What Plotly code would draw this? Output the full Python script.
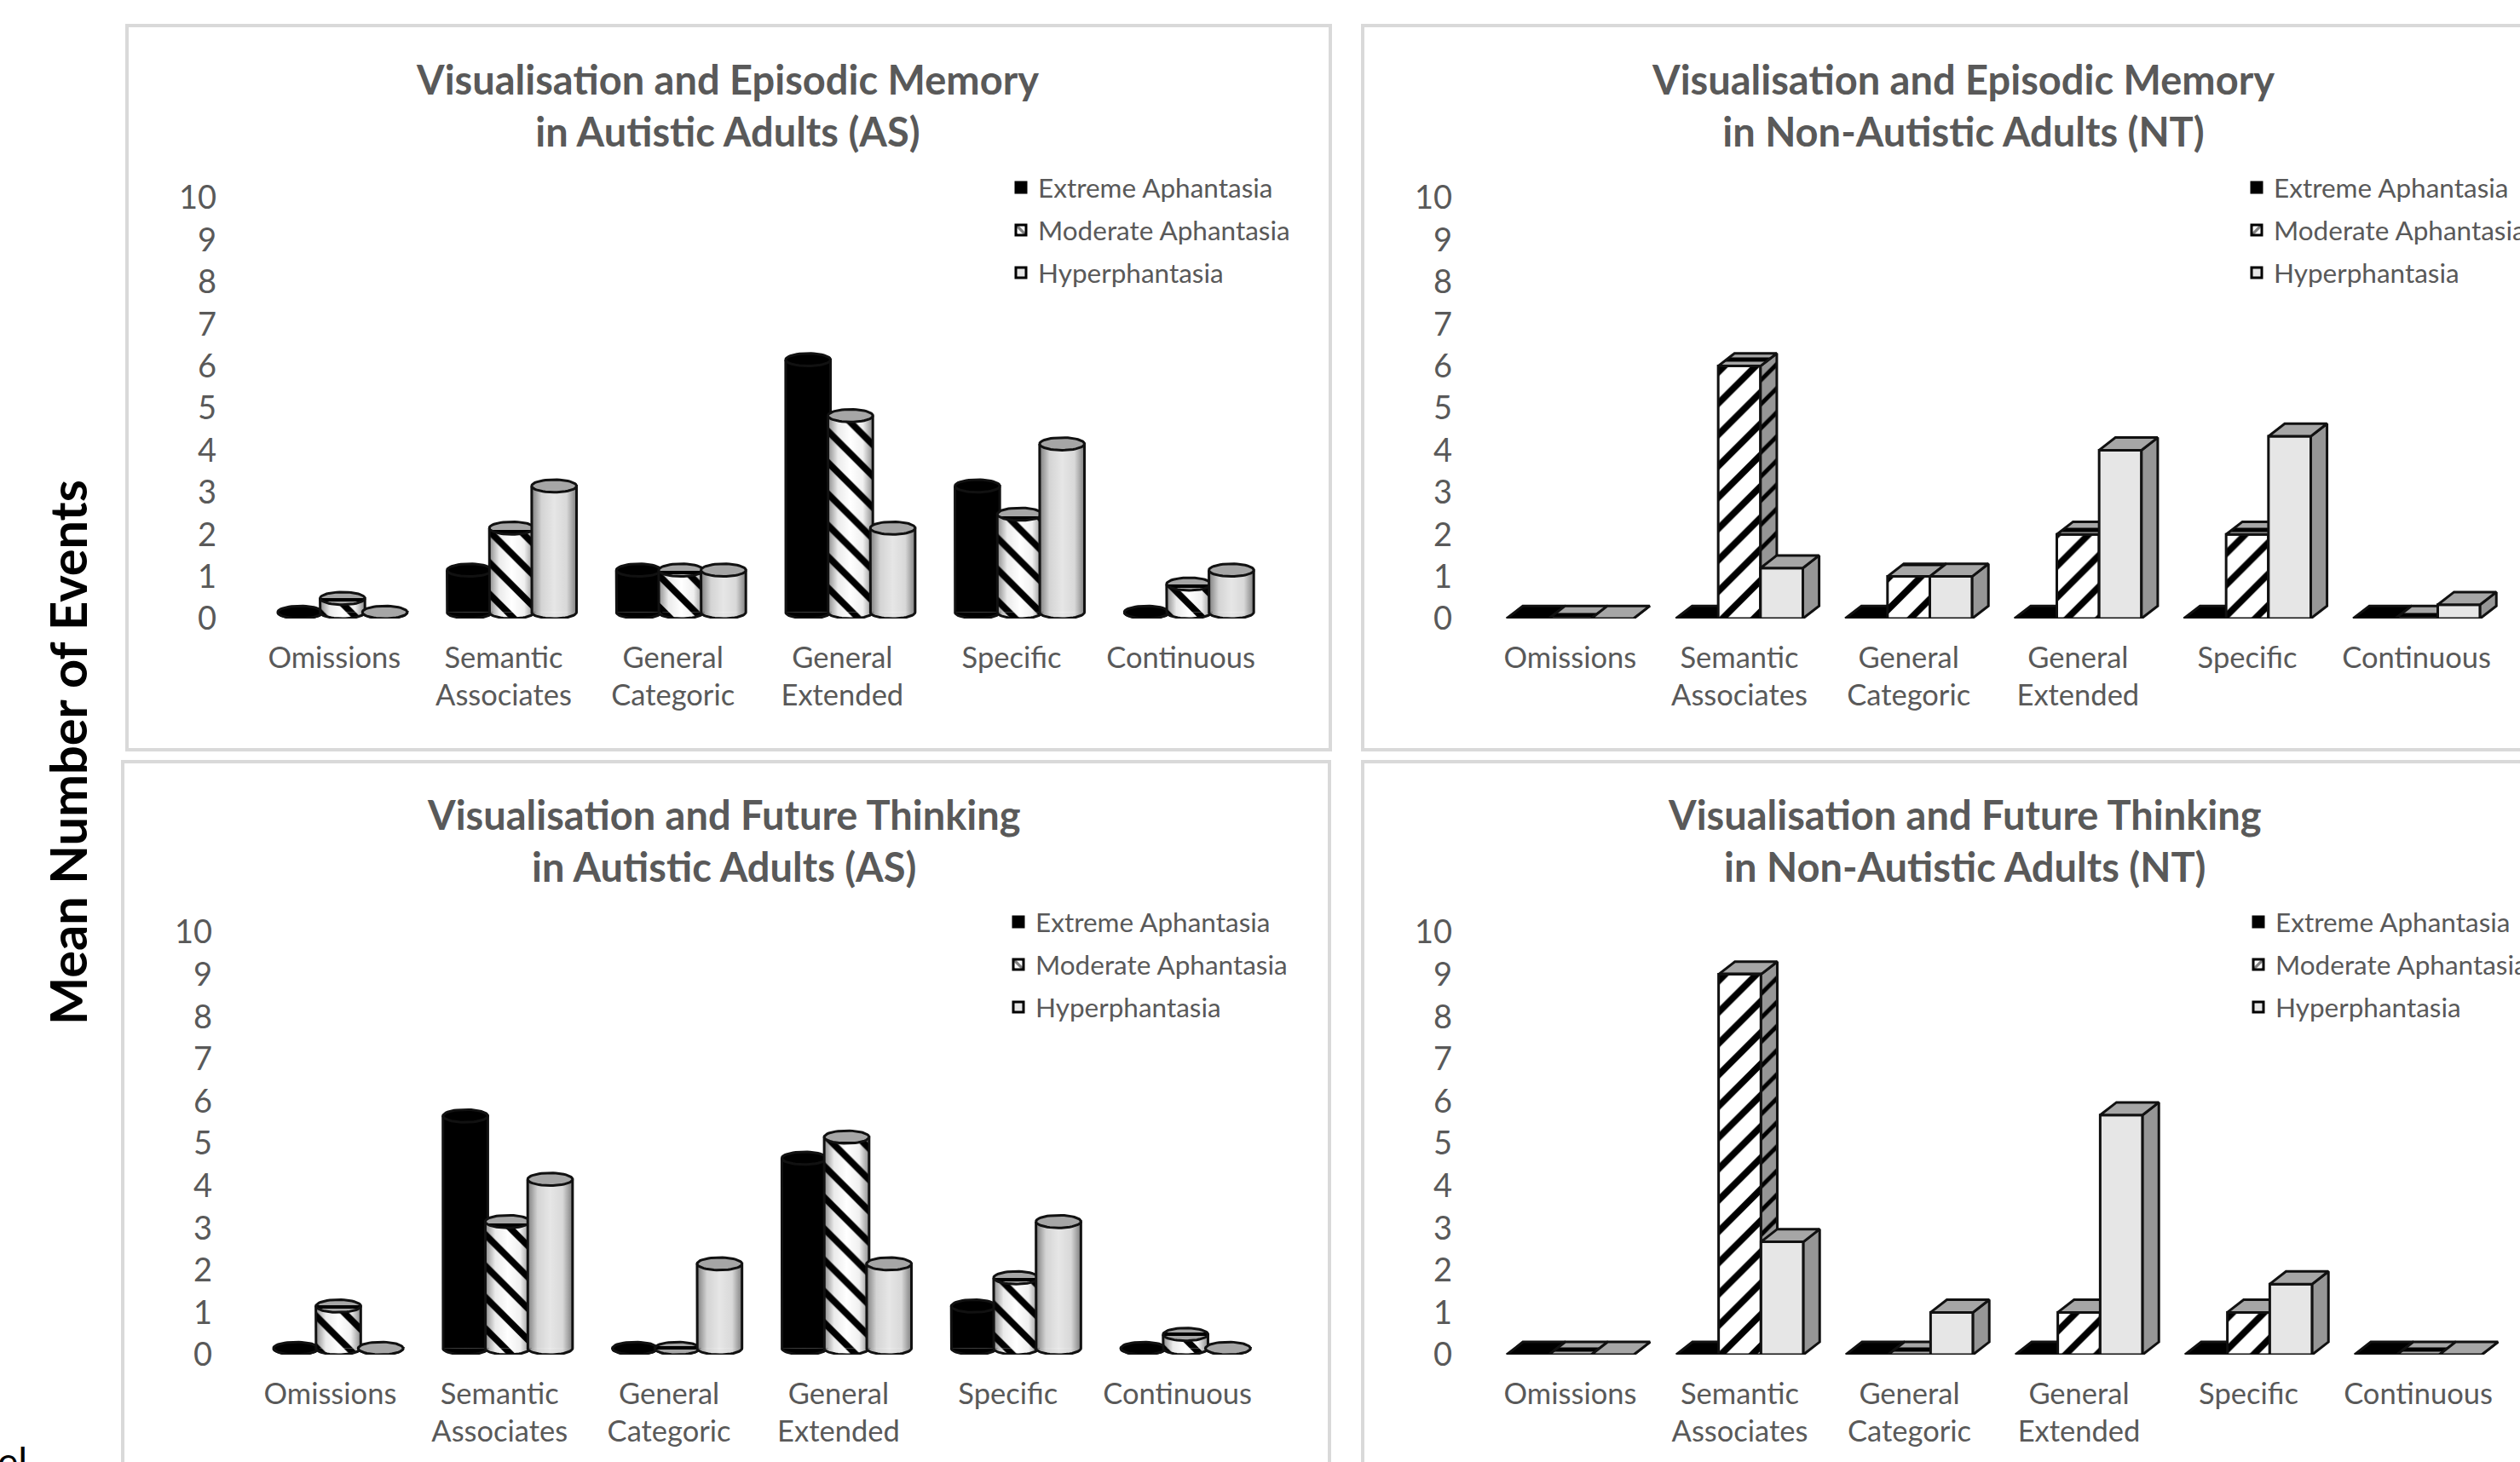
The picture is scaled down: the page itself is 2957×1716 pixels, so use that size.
import numpy as np
import plotly.graph_objects as go

W, H = 2957, 1716
categories = ["Omissions", "Semantic<br>Associates", "General<br>Categoric",
              "General<br>Extended", "Specific", "Continuous"]
series_names = ["Extreme Aphantasia", "Moderate Aphantasia", "Hyperphantasia"]
y_ticks = list(range(0, 11))

em_as_extreme = [0, 1, 1, 6, 3, 0]
em_as_moderate = [0.33, 2, 1, 4.67, 2.33, 0.67]
em_as_hyper = [0, 3, 1, 2, 4, 1]

em_nt_extreme = [0, 0, 0, 0, 0, 0]
em_nt_moderate = [0, 6, 1, 2, 2, 0]
em_nt_hyper = [0, 1.2, 1, 4, 4.33, 0.33]

ft_as_extreme = [0, 5.5, 0, 4.5, 1, 0]
ft_as_moderate = [1, 3, 0, 5, 1.67, 0.33]
ft_as_hyper = [0, 4, 2, 2, 3, 0]

ft_nt_extreme = [0, 0, 0, 0, 0, 0]
ft_nt_moderate = [0, 9, 0, 1, 1, 0]
ft_nt_hyper = [0, 2.67, 1, 5.67, 1.67, 0]

panels = [
    dict(title="Visualisation and Episodic Memory<br>in Autistic Adults (AS)", values=[em_as_extreme, em_as_moderate, em_as_hyper],
         kind="cyl", x0=293, x1=1485, y0=726, y10=232, tx=853, ty=124,
         frame=(149, 30, 1561, 880), lx=1178, ly=193),
    dict(title="Visualisation and Episodic Memory<br>in Non-Autistic Adults (NT)", values=[em_nt_extreme, em_nt_moderate, em_nt_hyper],
         kind="box", x0=1743, x1=2935, y0=726, y10=232, tx=2303, ty=124,
         frame=(1599, 30, 3100, 880), lx=2628, ly=193),
    dict(title="Visualisation and Future Thinking<br>in Autistic Adults (AS)", values=[ft_as_extreme, ft_as_moderate, ft_as_hyper],
         kind="cyl", x0=288, x1=1481, y0=1590, y10=1094, tx=849, ty=986,
         frame=(144, 894, 1560, 1800), lx=1175, ly=1055),
    dict(title="Visualisation and Future Thinking<br>in Non-Autistic Adults (NT)", values=[ft_nt_extreme, ft_nt_moderate, ft_nt_hyper],
         kind="box", x0=1743, x1=2937, y0=1590, y10=1094, tx=2305, ty=986,
         frame=(1599, 894, 3100, 1800), lx=2630, ly=1055),
]

GREY = "#595959"
FONT = "Lato"
OUT = "#111111"
DX, DY = 0.096, 0.30      # oblique depth of the 3-D columns, in axis units
BOX_W, CYL_W = 0.25, 0.265
OFFS = [-0.25, 0.0, 0.25]
FRONT = ["#000000", "#ffffff", "#e6e6e6"]
TOP = ["#000000", "#a6a6a6", "#a6a6a6"]
SIDE = ["#000000", "#969696", "#969696"]

fig = go.Figure()
layout = dict(width=W, height=H, autosize=False, margin=dict(l=0, r=0, t=0, b=0, autoexpand=False),
              paper_bgcolor="white", plot_bgcolor="rgba(0,0,0,0)", barmode="overlay",
              font=dict(family=FONT, color=GREY), showlegend=True)
shapes, annos = [], []


def stripe(direction, bg, size=26, fg="#000000", sol=0.3):
    return dict(shape=direction, bgcolor=bg, fgcolor=fg, size=size, solidity=sol, fillmode="replace")


for p, P in enumerate(panels):
    f = P["frame"]
    shapes.append(dict(type="rect", xref="paper", yref="paper", x0=f[0] / W, x1=f[2] / W,
                       y0=1 - f[3] / H, y1=1 - f[1] / H, line=dict(color="#d9d9d9", width=4),
                       fillcolor="white", layer="below"))
    annos.append(dict(text=P["title"], xref="paper", yref="paper", x=P["tx"] / W, y=1 - P["ty"] / H,
                      xanchor="center", yanchor="middle", showarrow=False,
                      font=dict(family=FONT, size=47, color=GREY, weight=700)))
    lname = "legend" if p == 0 else f"legend{p + 1}"
    layout[lname] = dict(x=P["lx"] / W, y=1 - P["ly"] / H, xanchor="left", yanchor="top",
                         bgcolor="rgba(0,0,0,0)", font=dict(family=FONT, size=31.5, color=GREY),
                         tracegroupgap=6, itemclick=False, itemdoubleclick=False, itemwidth=30,
                         traceorder="grouped")
    direction = "\\" if P["kind"] == "cyl" else "/"
    for s in range(3):
        n = p * 3 + s + 1
        xn, yn = f"x{n}", f"y{n}"
        base = p * 3 + 1
        xa = dict(domain=[P["x0"] / W, P["x1"] / W], range=[-0.5, 5.5], showgrid=False, zeroline=False,
                  showline=False, anchor=yn, fixedrange=True)
        ya = dict(domain=[1 - (P["y0"]) / H, 1 - (P["y10"]) / H], range=[0, 10], showgrid=False, zeroline=False,
                  showline=False, anchor=xn, fixedrange=True)
        if s == 0:
            xa.update(tickmode="array", tickvals=list(range(6)), ticktext=categories, ticks="",
                      tickfont=dict(family=FONT, size=34.5, color=GREY), ticklabelstandoff=22)
            ya.update(tickmode="array", tickvals=y_ticks, ticktext=[str(t) for t in y_ticks], ticks="",
                      tickfont=dict(family=FONT, size=38, color=GREY), ticklabelstandoff=38)
        else:
            xa.update(overlaying=f"x{base}", visible=False)
            ya.update(overlaying=f"y{base}", visible=False)
        layout["xaxis" if n == 1 else f"xaxis{n}"] = xa
        layout["yaxis" if n == 1 else f"yaxis{n}"] = ya

        vals = P["values"][s]
        hatched = s == 1
        axes = dict(xaxis=xn, yaxis=yn)

        if P["kind"] == "box":
            pat = stripe(direction, "#ffffff") if hatched else None
            mk = dict(color=FRONT[s], line=dict(color=OUT, width=3))
            if pat:
                mk["pattern"] = pat
            fig.add_trace(go.Bar(x=[i + OFFS[s] for i in range(6)], y=vals, width=BOX_W, marker=mk,
                                 showlegend=False, cliponaxis=False, name=series_names[s], **axes))
            xs_top, ys_top, xs_side, ys_side = [], [], [], []
            for i, v in enumerate(vals):
                l, r = i + OFFS[s] - BOX_W / 2, i + OFFS[s] + BOX_W / 2
                xs_top += [l, l + DX, r + DX, r, l, None]
                ys_top += [v, v + DY, v + DY, v, v, None]
                xs_side += [r, r + DX, r + DX, r, r, None]
                ys_side += [v, v + DY, DY, 0, v, None]
            for xs, ys, col in ((xs_side, ys_side, SIDE[s]), (xs_top, ys_top, TOP[s])):
                kw = dict(fillpattern=stripe("/" if col == SIDE[s] else "-", col, size=20, sol=0.25)) if hatched else {}
                fig.add_trace(go.Scatter(x=xs, y=ys, mode="lines", fill="toself", fillcolor=col,
                                         line=dict(color=OUT, width=3), showlegend=False, cliponaxis=False,
                                         hoverinfo="skip", **kw, **axes))
        else:
            rx, ry = CYL_W / 2, DY / 2
            cx = [i + OFFS[s] + DX / 2 for i in range(6)]
            pat = stripe(direction, "#ffffff") if hatched else None
            mk = dict(color=FRONT[s], line=dict(width=0))
            if pat:
                mk["pattern"] = pat
            fig.add_trace(go.Bar(x=cx, y=vals, base=[ry] * 6, width=CYL_W, marker=mk,
                                 showlegend=False, cliponaxis=False, name=series_names[s], **axes))
            t = np.linspace(0, np.pi, 25)
            for c, v in zip(cx, vals):
                bx = list(c - rx * np.cos(t))
                by = list(ry - ry * np.sin(t))
                # rounded underside, same fill as the column
                kw = dict(fillpattern=pat) if hatched else {}
                fig.add_trace(go.Scatter(x=bx, y=by, mode="lines", fill="toself", fillcolor=FRONT[s],
                                         line=dict(width=0), showlegend=False, cliponaxis=False,
                                         hoverinfo="skip", **kw, **axes))
                # shading + outline of the column wall
                wx = [c - rx] + bx + [c + rx, c - rx]
                wy = [v + ry] + by + [v + ry, v + ry]
                shade = dict(type="horizontal", colorscale=[[0, "rgba(0,0,0,0.45)"], [0.22, "rgba(0,0,0,0.08)"],
                                                            [0.5, "rgba(0,0,0,0)"], [0.78, "rgba(0,0,0,0.06)"],
                                                            [1, "rgba(0,0,0,0.45)"]])
                fig.add_trace(go.Scatter(x=wx, y=wy, mode="lines", fill="toself", fillgradient=shade,
                                         line=dict(color=OUT, width=3), showlegend=False, cliponaxis=False,
                                         hoverinfo="skip", **axes))
                a = np.linspace(0, 2 * np.pi, 49)
                kw = dict(fillpattern=stripe("-", TOP[s], size=16, sol=0.25)) if hatched else {}
                fig.add_trace(go.Scatter(x=c + rx * np.cos(a), y=v + ry + ry * np.sin(a), mode="lines",
                                         fill="toself", fillcolor=TOP[s], line=dict(color=OUT, width=3),
                                         showlegend=False, cliponaxis=False, hoverinfo="skip", **kw, **axes))
        # legend entry
        lk = dict(color=FRONT[s], line=dict(color="#000000", width=3))
        if hatched:
            lk["pattern"] = dict(shape=direction, bgcolor="#ffffff", fgcolor="#000000", size=12, solidity=0.4)
        fig.add_trace(go.Bar(x=[0], y=[None], marker=lk, name=series_names[s], legend=lname,
                             legendgroup=f"{p}-{s}", showlegend=True, **axes))

annos.append(dict(text="Mean Number of Events", xref="paper", yref="paper", x=79 / W, y=1 - 883 / H,
                  xanchor="center", yanchor="middle", textangle=-90, showarrow=False,
                  font=dict(family=FONT, size=59.5, color="#000000", weight=700)))
annos.append(dict(text="el", xref="paper", yref="paper", x=-5 / W, y=1 - 1685 / H, xanchor="left", yanchor="top",
                  showarrow=False, font=dict(family=FONT, size=46, color="#000000", weight=400)))
layout["shapes"] = shapes
layout["annotations"] = annos
fig.update_layout(**layout)
fig.write_html("out.html", config=dict(displayModeBar=False),
               post_script="document.body.style.margin='0';document.body.style.overflow='hidden';")
